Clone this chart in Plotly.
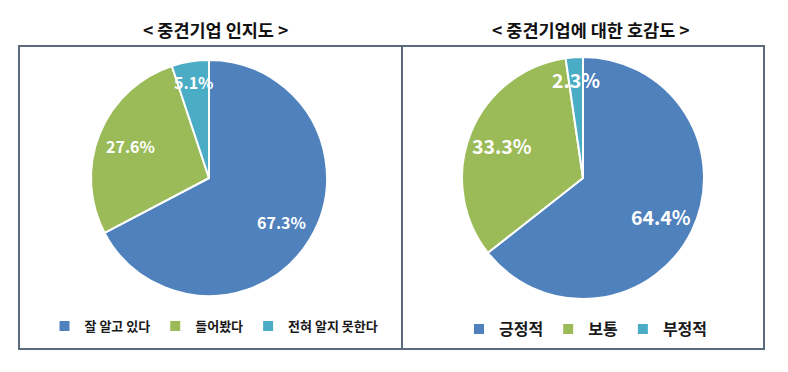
import math
import plotly.graph_objects as go

W, H = 788, 372

titles = ["< 중견기업 인지도 >", "< 중견기업에 대한 호감도 >"]
labels1 = ["잘 알고 있다", "들어봤다", "전혀 알지 못한다"]
values1 = [67.3, 27.6, 5.1]
labels2 = ["긍정적", "보통", "부정적"]
values2 = [64.4, 33.3, 2.3]
colors = ["#4F81BD", "#9BBB59", "#4BACC6"]

FONT = "Noto Sans CJK KR, Malgun Gothic, sans-serif"


def px_x(v):
    return v / W


def px_y(v):
    return 1 - v / H


# pie geometry (pixels): center x, center y, radius
pies = [
    dict(labels=labels1, values=values1, cx=209, cy=178, r=118, legend="legend", fs=16),
    dict(labels=labels2, values=values2, cx=583, cy=178, r=121, legend="legend2", fs=19.5),
]

fig = go.Figure()
annotations = []

for p in pies:
    fig.add_trace(go.Pie(
        labels=p["labels"], values=p["values"], sort=False, direction="clockwise", rotation=0,
        marker=dict(colors=colors, line=dict(color="white", width=2)),
        textinfo="none",
        domain=dict(x=[px_x(p["cx"] - p["r"]), px_x(p["cx"] + p["r"])],
                    y=[px_y(p["cy"] + p["r"]), px_y(p["cy"] - p["r"])]),
        legend=p["legend"], hoverinfo="label+value",
    ))
    total = sum(p["values"])
    cum = 0.0
    for v in p["values"]:
        share = v / total
        mid = (cum + share / 2) * 2 * math.pi  # clockwise from top
        cum += share
        rf = 0.72 if share > 0.1 else 0.82
        lx = p["cx"] + rf * p["r"] * math.sin(mid)
        ly = p["cy"] - rf * p["r"] * math.cos(mid)
        annotations.append(dict(
            text=f"{v:.1f}%", x=px_x(lx), y=px_y(ly), xref="paper", yref="paper",
            xanchor="center", yanchor="middle", showarrow=False,
            font=dict(size=p["fs"], color="white", family=FONT, weight="bold"),
        ))

box_col = "#5B6B7C"
shapes = [
    dict(type="rect", xref="paper", yref="paper", x0=px_x(19), x1=px_x(402), y0=px_y(349), y1=px_y(46),
         line=dict(color=box_col, width=2)),
    dict(type="rect", xref="paper", yref="paper", x0=px_x(402), x1=px_x(764), y0=px_y(349), y1=px_y(46),
         line=dict(color=box_col, width=2)),
]

annotations += [
    dict(text=titles[0], x=px_x(215), y=px_y(29), xref="paper", yref="paper", showarrow=False,
         xanchor="center", yanchor="middle",
         font=dict(size=17.5, color="#111111", family=FONT, weight="bold")),
    dict(text=titles[1], x=px_x(591), y=px_y(29), xref="paper", yref="paper", showarrow=False,
         xanchor="center", yanchor="middle",
         font=dict(size=17.5, color="#111111", family=FONT, weight="bold")),
]

fig.update_layout(
    width=W, height=H, margin=dict(l=0, r=0, t=0, b=0),
    paper_bgcolor="white", plot_bgcolor="white",
    shapes=shapes, annotations=annotations,
    legend=dict(orientation="h", x=px_x(214), y=px_y(326), xanchor="center", yanchor="middle",
                font=dict(size=13, color="#1a1a1a", family=FONT, weight="bold"), itemwidth=30,
                bgcolor="rgba(0,0,0,0)"),
    legend2=dict(orientation="h", x=px_x(586), y=px_y(329), xanchor="center", yanchor="middle",
                 font=dict(size=16, color="#1a1a1a", family=FONT, weight="bold"), itemwidth=30,
                 bgcolor="rgba(0,0,0,0)"),
    showlegend=True,
)

fig.write_html("out.html", config={"displayModeBar": False},
               post_script="document.body.style.margin='0';document.body.style.overflow='hidden';")
